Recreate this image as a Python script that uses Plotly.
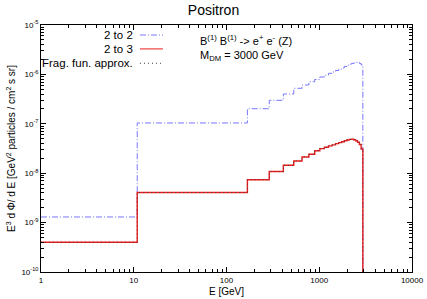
import plotly.graph_objects as go

# ---- data ----
energy_edges = [1, 10.9, 168, 289, 410, 531, 652, 773, 894, 1015, 1136, 1257, 1378,
                1499, 1620, 1741, 1862, 1983, 2104, 2225, 2346, 2467, 2588, 2709, 2830, 2951]
flux_2to2 = [1.3e-9, 1.04e-7, 2.02e-7, 2.99e-7, 4.01e-7, 5.23e-7, 6.10e-7, 7.11e-7,
             7.88e-7, 8.85e-7, 9.64e-7, 1.052e-6, 1.119e-6, 1.20e-6, 1.27e-6, 1.35e-6,
             1.45e-6, 1.54e-6, 1.61e-6, 1.66e-6, 1.71e-6, 1.75e-6, 1.76e-6, 1.66e-6, 1.55e-6]
flux_2to3 = [4.0e-10, 4.07e-9, 7.38e-9, 1.08e-8, 1.445e-8, 1.77e-8, 2.13e-8, 2.42e-8,
             2.84e-8, 3.15e-8, 3.36e-8, 3.57e-8, 3.74e-8, 3.97e-8, 4.16e-8, 4.34e-8,
             4.53e-8, 4.70e-8, 4.83e-8, 4.85e-8, 4.76e-8, 4.53e-8, 4.22e-8, 3.81e-8, 3.09e-8]
flux_frag = [4.0e-10, 4.07e-9, 7.38e-9, 1.08e-8, 1.445e-8, 1.77e-8, 2.13e-8, 2.42e-8,
             2.84e-8, 3.15e-8, 3.36e-8, 3.57e-8, 3.74e-8, 3.97e-8, 4.16e-8, 4.34e-8,
             4.53e-8, 4.70e-8, 4.83e-8, 4.85e-8, 4.76e-8, 4.53e-8, 4.22e-8, 3.81e-8, 3.09e-8]
cutoff_floor = 1e-13  # flux beyond the kinematic endpoint (off-scale)

x_ticks = [1, 10, 100, 1000, 10000]
x_ticktext = ["1", "10", "100", "1000", "10000"]
y_ticks = [1e-10, 1e-9, 1e-8, 1e-7, 1e-6, 1e-5]
y_ticktext = ["10<sup>-10</sup>", "10<sup>-9</sup>", "10<sup>-8</sup>",
              "10<sup>-7</sup>", "10<sup>-6</sup>", "10<sup>-5</sup>"]

series_names = ["2 to 2", "2 to 3", "Frag. fun. approx."]
series_colors = ["#7878ff", "#ee1c1c", "#404040"]
series_dash = ["6px,2px,1px,2px", "solid", "1px,3px"]
series_width = [1, 1.4, 0.9]

FONT = "Liberation Sans, Arial, sans-serif"

fig = go.Figure()
for name, vals, col, dash, w in zip(series_names, [flux_2to2, flux_2to3, flux_frag],
                                     series_colors, series_dash, series_width):
    fig.add_trace(go.Scatter(
        x=energy_edges, y=list(vals) + [cutoff_floor], mode="lines",
        line=dict(shape="hv", color=col, dash=dash, width=w),
        name=name, showlegend=False, hoverinfo="skip"))

minor_x = [m * 10 ** d for d in range(0, 4) for m in range(2, 10)]
minor_y = [m * 10.0 ** d for d in range(-10, -5) for m in range(2, 10)]

fig.update_layout(
    width=427, height=299,
    margin=dict(l=41, r=15, t=25, b=27),
    paper_bgcolor="white", plot_bgcolor="white",
    font=dict(family=FONT, color="black"),
    title=dict(text="Positron", x=0.5, xanchor="center", y=0.965, yanchor="middle",
               font=dict(size=14, family=FONT)),
    xaxis=dict(type="log", range=[0, 4], tickvals=x_ticks, ticktext=x_ticktext,
               ticks="inside", ticklen=5, tickcolor="black", showgrid=False,
               zeroline=False, showline=True, linecolor="black", linewidth=1,
               mirror="ticks", tickfont=dict(size=8), automargin=False,
               minor=dict(tickvals=minor_x, ticks="inside", ticklen=3,
                          tickcolor="black", showgrid=False),
               title=dict(text="E [GeV]", font=dict(size=10), standoff=4)),
    yaxis=dict(type="log", range=[-10, -5], tickvals=y_ticks, ticktext=y_ticktext,
               ticks="inside", ticklen=5, tickcolor="black", showgrid=False,
               zeroline=False, showline=True, linecolor="black", linewidth=1,
               mirror="ticks", tickfont=dict(size=8), automargin=False,
               minor=dict(tickvals=minor_y, ticks="inside", ticklen=3,
                          tickcolor="black", showgrid=False),
               title=dict(text="E<sup>3</sup> d \u03a6/ d E [GeV<sup>2</sup> particles / cm<sup>2</sup> s sr]",
                          font=dict(size=10), standoff=3)),
)

# legend drawn gnuplot-style: right-aligned label, sample line to the right
leg_rows = [0.9595, 0.9032, 0.845]
for name, col, dash, yr in zip(series_names, series_colors, series_dash, leg_rows):
    fig.add_annotation(xref="paper", yref="paper", x=0.2534, y=yr, text=name,
                       showarrow=False, xanchor="right", yanchor="middle",
                       font=dict(size=11.5, family=FONT))
    fig.add_shape(type="line", xref="paper", yref="paper", x0=0.2668, x1=0.3288,
                  y0=yr, y1=yr, line=dict(color=col, dash=dash, width=1))

fig.add_annotation(xref="paper", yref="paper", x=0.423, y=0.975,
                   text="B<sup>(1)</sup> B<sup>(1)</sup> -> e<sup>+</sup> e<sup>-</sup> (Z)<br>M<sub>DM</sub> = 3000 GeV",
                   showarrow=False, xanchor="left", yanchor="top", align="left",
                   font=dict(size=11, family=FONT))

fig.write_html("out.html", config={"displayModeBar": False},
               post_script="document.body.style.margin='0';document.body.style.overflow='hidden';")
